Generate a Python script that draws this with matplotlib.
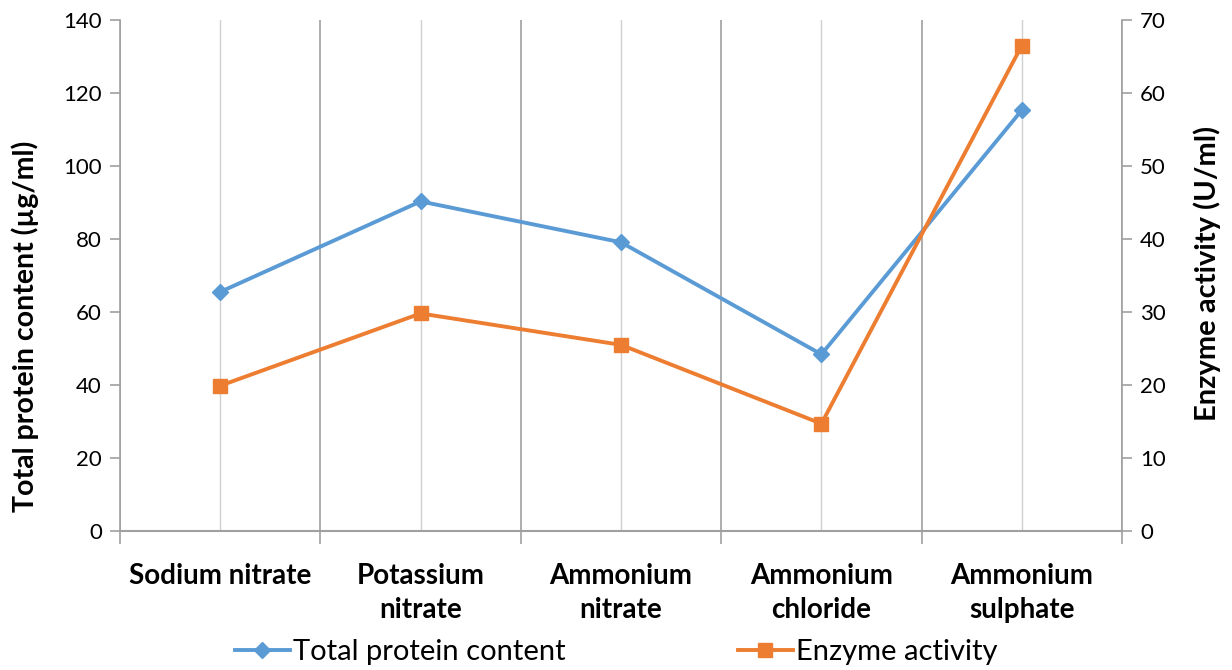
import numpy as np
import matplotlib
matplotlib.use("Agg")
import matplotlib.pyplot as plt
from matplotlib.ticker import FixedLocator

categories = ["Sodium nitrate", "Potassium\nnitrate", "Ammonium\nnitrate",
              "Ammonium\nchloride", "Ammonium\nsulphate"]
protein = [65.5, 90.3, 79.1, 48.4, 115.3]
enzyme = [19.9, 29.8, 25.5, 14.7, 66.5]

plt.rcParams['font.family'] = ['Lato', 'DejaVu Sans']

blue = "#5b9bd5"
orange = "#ed7d31"
grid_dark = "#a0a0a0"
grid_light = "#d0d0d0"

fig = plt.figure(figsize=(12.32, 6.70), dpi=100)
ax = fig.add_axes([120 / 1232, 1 - 531 / 670, (1122 - 120) / 1232, (531 - 20) / 670])
ax2 = ax.twinx()

x = np.arange(len(categories))

# grid lines: boundaries darker, centres lighter
ax.set_xlim(-0.5, len(categories) - 0.5)
ax.xaxis.set_major_locator(FixedLocator(np.arange(-0.5, len(categories), 1.0)))
ax.xaxis.set_minor_locator(FixedLocator(x))
ax.set_xticklabels([])
ax.set_xticklabels(categories, minor=True, fontsize=20, fontweight="bold",
                   linespacing=1.4)
ax.tick_params(axis="x", which="major", direction="out", length=9, color=grid_dark, width=1.2)
ax.tick_params(axis="x", which="minor", length=0, pad=23)
ax.grid(True, axis="x", which="major", color=grid_dark, lw=1.2)
ax.grid(True, axis="x", which="minor", color=grid_light, lw=1.0)
ax.set_axisbelow(True)

ax.set_ylim(0, 140)
ax.set_yticks(np.arange(0, 141, 20))
ax2.set_ylim(0, 70)
ax2.set_yticks(np.arange(0, 71, 10))
for a in (ax, ax2):
    a.tick_params(axis="y", direction="out", length=7, color=grid_dark, width=1.2,
                  labelsize=16, pad=6)
    for s in a.spines.values():
        s.set_visible(False)
ax.spines["left"].set_visible(True)
ax.spines["left"].set_color(grid_dark)
ax.spines["left"].set_linewidth(1.2)
ax.spines["bottom"].set_visible(True)
ax.spines["bottom"].set_color(grid_dark)
ax.spines["bottom"].set_linewidth(1.5)
ax2.spines["right"].set_visible(True)
ax2.spines["right"].set_color(grid_dark)
ax2.spines["right"].set_linewidth(1.2)

l1, = ax.plot(x, protein, color=blue, lw=2.8, marker="D", ms=8,
              label="Total protein content")
l2, = ax2.plot(x, enzyme, color=orange, lw=2.8, marker="s", ms=10,
               label="Enzyme activity")

ax.set_ylabel("Total protein content (µg/ml)", fontsize=20.5, fontweight="bold")
ax.yaxis.set_label_coords(-0.081, 0.40)
ax2.set_ylabel("Enzyme activity (U/ml)", fontsize=21, fontweight="bold")
ax2.yaxis.set_label_coords(1.071, 0.505)

fig.legend(handles=[l1, l2], loc="lower center", bbox_to_anchor=(0.5, -0.032), ncol=2,
           frameon=False, fontsize=21, handlelength=1.9, columnspacing=5.9,
           handletextpad=0.1)

fig.savefig("out.png", dpi=100)
